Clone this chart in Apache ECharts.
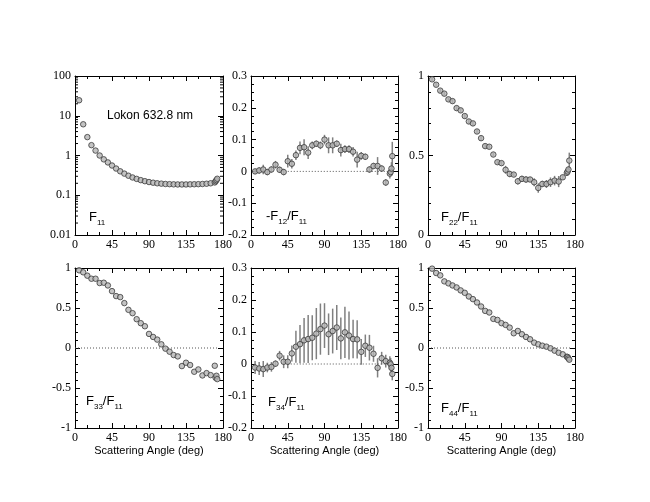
<!DOCTYPE html>
<html>
<head>
<meta charset="utf-8">
<script src="https://cdn.jsdelivr.net/npm/echarts@6/dist/echarts.min.js"></script>
<style>html,body{margin:0;padding:0;background:#fff}#c{width:650px;height:502px}</style>
</head>
<body>
<div id="c"></div>
<script>
// Scattering angles (deg)
const angles = [5,10,15,20,25,30,35,40,45,50,55,60,65,70,75,80,85,90,95,100,105,110,115,120,125,130,135,140,145,150,155,160,165,170,171,172,173];

const F11 = [24.5,6.1,2.9,1.82,1.33,1.0,0.8,0.67,0.56,0.47,0.4,0.35,0.31,0.28,0.258,0.24,0.226,0.215,0.207,0.2,0.196,0.192,0.19,0.188,0.187,0.187,0.187,0.188,0.189,0.19,0.192,0.195,0.2,0.21,0.225,0.24,0.26];

const mF12 = [0.0,0.003,0.006,-0.002,0.006,0.021,0.005,-0.002,0.032,0.024,0.051,0.074,0.076,0.059,0.082,0.087,0.082,0.1,0.082,0.082,0.087,0.067,0.07,0.07,0.062,0.037,0.049,0.046,0.006,0.017,0.017,0.009,-0.035,-0.007,-0.002,0.009,0.048];
const mF12err = [0.008,0.01,0.015,0.01,0.01,0.012,0.01,0.01,0.02,0.015,0.015,0.02,0.025,0.02,0.012,0.01,0.012,0.015,0.025,0.025,0.01,0.02,0.012,0.012,0.015,0.025,0.012,0.01,0.01,0.01,0.028,0.01,0.01,0.015,0.01,0.02,0.045];

const F22 = [0.979,0.945,0.908,0.889,0.853,0.842,0.798,0.784,0.748,0.714,0.702,0.651,0.609,0.559,0.555,0.506,0.458,0.452,0.41,0.384,0.38,0.338,0.353,0.349,0.349,0.332,0.296,0.321,0.321,0.332,0.342,0.336,0.363,0.391,0.399,0.412,0.468];
const F22err = [0.01,0.012,0.012,0.012,0.012,0.015,0.015,0.015,0.015,0.015,0.015,0.012,0.015,0.015,0.012,0.012,0.015,0.015,0.025,0.02,0.012,0.02,0.02,0.02,0.015,0.025,0.03,0.02,0.025,0.03,0.03,0.035,0.015,0.02,0.02,0.02,0.05];

const F33 = [0.971,0.946,0.904,0.866,0.866,0.812,0.816,0.782,0.711,0.649,0.636,0.561,0.477,0.435,0.36,0.31,0.272,0.176,0.138,0.105,0.046,-0.008,-0.046,-0.088,-0.105,-0.226,-0.184,-0.213,-0.297,-0.268,-0.343,-0.314,-0.339,-0.222,-0.372,-0.347,-0.389];

const F34 = [-0.011,-0.014,-0.016,-0.011,-0.009,0.001,0.026,0.007,0.007,0.033,0.054,0.062,0.074,0.078,0.082,0.095,0.109,0.12,0.093,0.103,0.114,0.08,0.099,0.089,0.078,0.077,0.038,0.057,0.051,0.032,-0.012,0.018,0.009,0.004,-0.001,-0.012,-0.031];
const F34err = [0.02,0.02,0.025,0.015,0.015,0.01,0.015,0.02,0.02,0.025,0.05,0.06,0.07,0.075,0.07,0.08,0.08,0.07,0.065,0.07,0.07,0.065,0.08,0.075,0.06,0.06,0.04,0.035,0.04,0.025,0.03,0.02,0.02,0.02,0.02,0.02,0.02];

const F44 = [0.992,0.937,0.908,0.833,0.808,0.782,0.757,0.72,0.69,0.644,0.611,0.569,0.519,0.464,0.444,0.364,0.351,0.31,0.289,0.255,0.184,0.213,0.172,0.138,0.109,0.067,0.046,0.029,0.017,-0.004,-0.033,-0.059,-0.079,-0.109,-0.113,-0.13,-0.146];

// tick settings
const xTicks = {min: 0, max: 180, interval: 45};
// minor tick values of the logarithmic F11 axis
const logMinorTicks = [0.02,0.03,0.04,0.05,0.06,0.07,0.08,0.09,0.2,0.3,0.4,0.5,0.6,0.7,0.8,0.9,2,3,4,5,6,7,8,9,20,30,40,50,60,70,80,90];

const panels = [
  {vals: F11, err: null, yType: 'log', ymin: 0.01, ymax: 100, yint: null, minor: 0, zero: null},
  {vals: mF12, err: mF12err, yType: 'value', ymin: -0.2, ymax: 0.3, yint: 0.1, minor: 4, zero: [45, 175]},
  {vals: F22, err: F22err, yType: 'value', ymin: 0, ymax: 1, yint: 0.5, minor: 5, zero: null},
  {vals: F33, err: null, yType: 'value', ymin: -1, ymax: 1, yint: 0.5, minor: 5, zero: [0, 175]},
  {vals: F34, err: F34err, yType: 'value', ymin: -0.2, ymax: 0.3, yint: 0.1, minor: 4, zero: [45, 175]},
  {vals: F44, err: null, yType: 'value', ymin: -1, ymax: 1, yint: 0.5, minor: 5, zero: [0, 175]}
];

const boxes = [
  {left: 75, top: 76, width: 148, height: 159},
  {left: 251, top: 76, width: 147, height: 159},
  {left: 428, top: 76, width: 147, height: 159},
  {left: 75, top: 268, width: 148, height: 160},
  {left: 251, top: 268, width: 147, height: 160},
  {left: 428, top: 268, width: 147, height: 160}
];

const lineC = '#000';
const tickFont = {fontFamily: 'Liberation Serif', fontSize: 12, color: '#000'};

const grid = [], xAxis = [], yAxis = [], series = [];
boxes.forEach((b, i) => {
  grid.push(Object.assign({outerBoundsMode: 'none', containLabel: false}, b));
  const p = panels[i];
  const bottomRow = i >= 3;
  const xBase = {
    type: 'value', gridIndex: i, min: xTicks.min, max: xTicks.max, interval: xTicks.interval,
    axisLine: {show: true, onZero: false, lineStyle: {color: lineC, width: 1}},
    axisTick: {show: true, inside: true, length: 5, lineStyle: {color: lineC}},
    minorTick: {show: true, splitNumber: 3, length: 3, lineStyle: {color: lineC}},
    splitLine: {show: false}, minorSplitLine: {show: false}
  };
  xAxis.push(Object.assign({}, xBase, {
    position: 'bottom',
    axisLabel: Object.assign({show: true, margin: 4}, tickFont),
    name: bottomRow ? 'Scattering Angle (deg)' : '',
    nameLocation: 'middle', nameGap: 17,
    nameTextStyle: {fontFamily: 'Liberation Sans', fontSize: 11, color: '#000'}
  }));
  xAxis.push(Object.assign({}, xBase, {position: 'top', axisLabel: {show: false}}));
  const yBase = {
    type: p.yType, gridIndex: i, min: p.ymin, max: p.ymax,
    axisLine: {show: true, onZero: false, lineStyle: {color: lineC, width: 1}},
    axisTick: {show: true, inside: true, length: 5, lineStyle: {color: lineC}},
    minorTick: {show: p.minor > 0, splitNumber: p.minor || 5, length: 3, lineStyle: {color: lineC}},
    splitLine: {show: false}, minorSplitLine: {show: false}
  };
  if (p.yint) yBase.interval = p.yint;
  if (p.yType === 'log') yBase.logBase = 10;
  yAxis.push(Object.assign({}, yBase, {
    position: 'left',
    axisLabel: Object.assign({show: true, margin: 4}, tickFont)
  }));
  yAxis.push(Object.assign({}, yBase, {position: 'right', axisLabel: {show: false}}));

  const xi = 2 * i, yi = 2 * i;
  if (p.yType === 'log') {
    // logarithmic minor ticks on left and right edges
    series.push({
      type: 'custom', xAxisIndex: xi, yAxisIndex: yi, z: 1, silent: true, clip: false,
      data: logMinorTicks.map(v => [xTicks.min, v]),
      encode: {x: 0, y: 1},
      renderItem: function (params, api) {
        const v = api.value(1);
        const l = api.coord([xTicks.min, v]);
        const r = api.coord([xTicks.max, v]);
        return {type: 'group', children: [
          {type: 'line', shape: {x1: l[0], y1: l[1], x2: l[0] + 3, y2: l[1]}, style: {stroke: lineC, lineWidth: 1}},
          {type: 'line', shape: {x1: r[0], y1: r[1], x2: r[0] - 3, y2: r[1]}, style: {stroke: lineC, lineWidth: 1}}
        ]};
      }
    });
  }
  if (p.err) {
    series.push({
      type: 'custom', xAxisIndex: xi, yAxisIndex: yi, z: 1,
      data: angles.map((a, k) => [a, p.vals[k], p.err[k]]),
      encode: {x: 0, y: 1},
      renderItem: function (params, api) {
        const x = api.value(0), y = api.value(1), e = api.value(2);
        const p1 = api.coord([x, y - e]);
        const p2 = api.coord([x, y + e]);
        return {type: 'line', shape: {x1: p1[0], y1: p1[1], x2: p2[0], y2: p2[1]},
          style: {stroke: '#808080', lineWidth: 1.5}};
      }
    });
  }
  if (p.zero) {
    series.push({
      type: 'line', xAxisIndex: xi, yAxisIndex: yi, z: 2, symbol: 'none', silent: true,
      data: [[p.zero[0], 0], [p.zero[1], 0]],
      lineStyle: {color: '#555', width: 1, type: [1, 2]}
    });
  }
  series.push({
    type: 'scatter', xAxisIndex: xi, yAxisIndex: yi, z: 3,
    symbol: 'circle', symbolSize: 5.5,
    data: angles.map((a, k) => [a, p.vals[k]]),
    itemStyle: {color: '#b4b4b4', borderColor: '#3a3a3a', borderWidth: 1}
  });
});

const lab = {fontFamily: 'Liberation Sans', fill: '#000'};
const rich = {
  f: {fontFamily: 'Liberation Sans', fontSize: 13, color: '#000', lineHeight: 18, verticalAlign: 'bottom', padding: [0, 0, 3, 0]},
  s: {fontFamily: 'Liberation Sans', fontSize: 8, color: '#000', lineHeight: 21, verticalAlign: 'bottom'}
};
function ptxt(x, y, text) {
  return {type: 'text', x: x, y: y, style: {text: text, rich: rich, align: 'left', verticalAlign: 'bottom'}};
}
const graphic = [
  {type: 'text', x: 107, y: 116, style: Object.assign({text: 'Lokon 632.8 nm', fontSize: 12, verticalAlign: 'middle'}, lab)},
  ptxt(89, 227, '{f|F}{s|11}'),
  ptxt(266, 226, '{f|-F}{s|12}{f|/F}{s|11}'),
  ptxt(441, 227, '{f|F}{s|22}{f|/F}{s|11}'),
  ptxt(86, 411, '{f|F}{s|33}{f|/F}{s|11}'),
  ptxt(268, 412, '{f|F}{s|34}{f|/F}{s|11}'),
  ptxt(441, 418, '{f|F}{s|44}{f|/F}{s|11}')
];

const chart = echarts.init(document.getElementById('c'), null, {renderer: 'canvas'});
chart.setOption({
  backgroundColor: '#fff',
  animation: false,
  grid: grid, xAxis: xAxis, yAxis: yAxis, series: series, graphic: graphic
});
</script>
</body>
</html>
